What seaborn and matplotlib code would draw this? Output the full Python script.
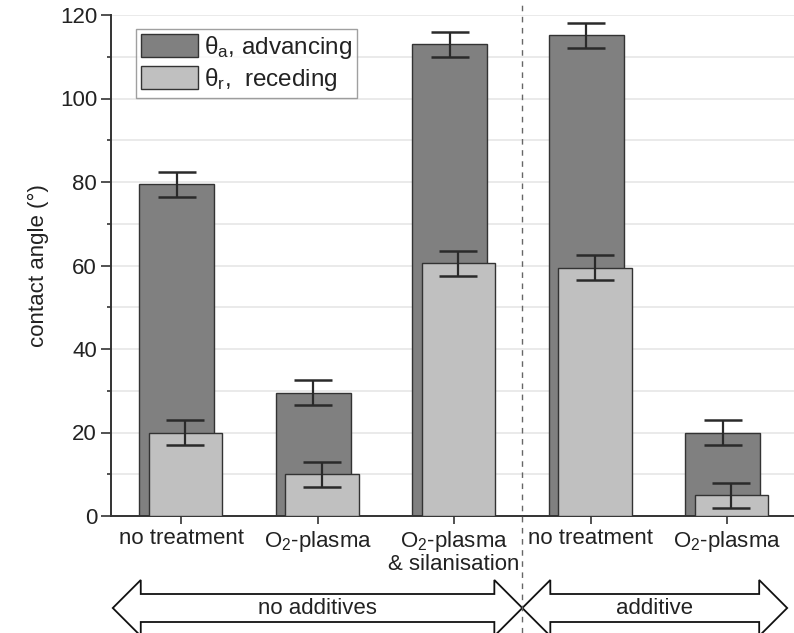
import numpy as np
import pandas as pd
import matplotlib
matplotlib.use("Agg")
import matplotlib.pyplot as plt
from matplotlib.patches import Polygon
from matplotlib.lines import Line2D
from matplotlib.transforms import blended_transform_factory
import seaborn as sns

# Contact angle measurements (degrees)
categories = ["no treatment", "O$_\\mathrm{2}$-plasma", "O$_\\mathrm{2}$-plasma\n& silanisation",
              "no treatment", "O$_\\mathrm{2}$-plasma"]
advancing = [79.5, 29.5, 113.0, 115.2, 20.0]
advancing_err = [3.0, 3.0, 3.0, 3.0, 3.0]
receding = [20.0, 10.0, 60.5, 59.5, 5.0]
receding_err = [3.0, 3.0, 3.0, 3.0, 3.0]
groups = ["no additives", "additive"]
group_spans = [(0, 2), (3, 4)]

sns.set_theme(style="ticks")
plt.rcParams["font.family"] = ["Liberation Sans", "DejaVu Sans"]
plt.rcParams["mathtext.fontset"] = "custom"
plt.rcParams["mathtext.rm"] = "Liberation Sans"
plt.rcParams["mathtext.it"] = "Liberation Sans:italic"

W, H = 794, 633
fig = plt.figure(figsize=(W / 100, H / 100), dpi=100)
ax = fig.add_axes([111 / W, 1 - 516 / H, (W - 111) / W, (516 - 15) / H])

idx = np.arange(len(categories))
shift = 0.032
df_adv = pd.DataFrame({"x": idx - shift, "angle": advancing})
df_rec = pd.DataFrame({"x": idx + shift, "angle": receding})

dark, light, edge = "#808080", "#c0c0c0", "#333333"

# light horizontal grid every 10 degrees
for v in np.arange(10, 121, 10):
    ax.axhline(v, color="#e6e6e6", lw=1.2, zorder=0)

sns.barplot(data=df_adv, x="x", y="angle", native_scale=True, width=0.55,
            color=dark, saturation=1, edgecolor=edge, linewidth=1.0,
            errorbar=None, ax=ax, zorder=2, label="θ$_\\mathrm{a}$, advancing")
ax.errorbar(df_adv["x"], df_adv["angle"], yerr=advancing_err, fmt="none",
            ecolor="#2a2a2a", elinewidth=1.6, capsize=14, capthick=1.8, zorder=3)
sns.barplot(data=df_rec, x="x", y="angle", native_scale=True, width=0.54,
            color=light, saturation=1, edgecolor=edge, linewidth=1.0,
            errorbar=None, ax=ax, zorder=4, label="θ$_\\mathrm{r}$,  receding")
ax.errorbar(df_rec["x"], df_rec["angle"], yerr=receding_err, fmt="none",
            ecolor="#2a2a2a", elinewidth=1.6, capsize=14, capthick=1.8, zorder=5)

ax.set_xlim(-0.513, 4.49)
ax.set_ylim(0, 120)
ax.set_xticks(idx)
ax.set_xticklabels(categories, fontsize=16, color="#222222", linespacing=1.05)
ax.set_yticks(np.arange(0, 121, 20))
ax.set_yticks(np.arange(10, 120, 20), minor=True)
ax.tick_params(axis="y", labelsize=16, labelcolor="#222222", length=7, width=1.2,
               color="#333333", pad=3)
ax.tick_params(axis="y", which="minor", length=3, width=1.2, color="#333333")
ax.tick_params(axis="x", length=6, width=1.2, color="#333333", pad=3)
ax.set_xlabel("")
ax.set_ylabel("contact angle (°)", fontsize=16, color="#222222", labelpad=8)

for s in ["top", "right"]:
    ax.spines[s].set_visible(False)
for s in ["left", "bottom"]:
    ax.spines[s].set_linewidth(1.4)
    ax.spines[s].set_color("#333333")

leg = ax.legend(loc="upper left", bbox_to_anchor=(0.037, 0.972), fontsize=17.5,
                handlelength=2.35, handleheight=1.05, handletextpad=0.25,
                labelspacing=0.2, borderpad=0.2, borderaxespad=0,
                fancybox=False, frameon=True)
leg.get_frame().set_edgecolor("#888888")
leg.get_frame().set_linewidth(1.0)
for t in leg.get_texts():
    t.set_color("#222222")

# dashed separator between the two sample groups
sep = (idx[group_spans[0][1]] + idx[group_spans[1][0]]) / 2
tr = blended_transform_factory(ax.transData, fig.transFigure)
fig.add_artist(Line2D([sep, sep], [0, 1], transform=tr, color="#666666",
                      lw=1.0, ls=(0, (4, 4))))

# double-headed block arrows marking the groups
yc = 1 - 608 / H
body = 14 / H
head = 28 / H
head_len = 0.205
ends = [(-0.5, sep), (sep, 4.44)]
for (x0, x1), name in zip(ends, groups):
    pts = [(x0, yc), (x0 + head_len, yc + head), (x0 + head_len, yc + body),
           (x1 - head_len, yc + body), (x1 - head_len, yc + head), (x1, yc),
           (x1 - head_len, yc - head), (x1 - head_len, yc - body),
           (x0 + head_len, yc - body), (x0 + head_len, yc - head)]
    fig.add_artist(Polygon(pts, closed=True, transform=tr, facecolor="white",
                           edgecolor="#111111", lw=1.3))
    fig.text((x0 + x1) / 2, yc, name, transform=tr, ha="center", va="center",
             fontsize=16, color="#222222")

fig.savefig("out.png", dpi=100)
